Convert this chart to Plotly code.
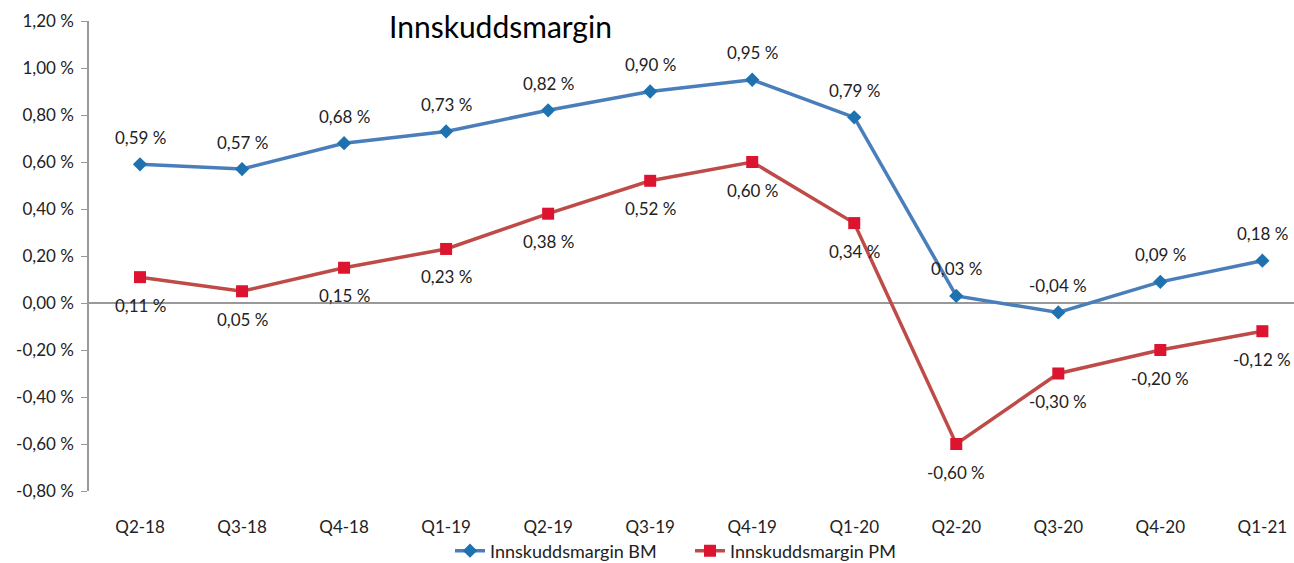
import plotly.graph_objects as go

categories = ["Q2-18", "Q3-18", "Q4-18", "Q1-19", "Q2-19", "Q3-19", "Q4-19",
              "Q1-20", "Q2-20", "Q3-20", "Q4-20", "Q1-21"]
bm_values = [0.59, 0.57, 0.68, 0.73, 0.82, 0.90, 0.95, 0.79, 0.03, -0.04, 0.09, 0.18]
pm_values = [0.11, 0.05, 0.15, 0.23, 0.38, 0.52, 0.60, 0.34, -0.60, -0.30, -0.20, -0.12]
y_ticks = [-0.8, -0.6, -0.4, -0.2, 0.0, 0.2, 0.4, 0.6, 0.8, 1.0, 1.2]


def fmt(v):
    return f"{v:.2f}".replace(".", ",") + " %"


FONT = "Lato, Noto Sans, sans-serif"
W, H = 1294, 563
L, T, B, R = 89, 21, 72, 0
PW, PH = W - L - R, H - T - B

fig = go.Figure()
fig.add_trace(go.Scatter(
    x=categories, y=bm_values, mode="lines+markers", name="Innskuddsmargin BM",
    line=dict(color="#4A7EBB", width=3.5),
    marker=dict(symbol="diamond", size=11, color="#1F72B0"),
))
fig.add_trace(go.Scatter(
    x=categories, y=pm_values, mode="lines+markers", name="Innskuddsmargin PM",
    line=dict(color="#BE4B48", width=3.5),
    marker=dict(symbol="square", size=12, color="#DC1430"),
))

annotations = []
for c, v in zip(categories, bm_values):
    annotations.append(dict(x=c, y=v, xref="x", yref="y", text=fmt(v), showarrow=False,
                            yshift=27, font=dict(family=FONT, size=17, color="#222")))
for c, v in zip(categories, pm_values):
    annotations.append(dict(x=c, y=v, xref="x", yref="y", text=fmt(v), showarrow=False,
                            yshift=-28, font=dict(family=FONT, size=17, color="#222")))
annotations.append(dict(
    x=(500 - L) / PW, y=1 - (26 - T) / PH, xref="paper", yref="paper",
    text="Innskuddsmargin", showarrow=False, xanchor="center", yanchor="middle",
    font=dict(family=FONT, size=30, color="#000")))

fig.update_layout(
    width=W, height=H,
    margin=dict(l=L, r=R, t=T, b=B, autoexpand=False),
    paper_bgcolor="white", plot_bgcolor="white",
    font=dict(family=FONT, size=17, color="#222"),
    showlegend=True,
    legend=dict(orientation="h", x=(690 - L) / PW, xanchor="center",
                y=-(551 - 491) / PH, yanchor="middle",
                bgcolor="rgba(0,0,0,0)",
                font=dict(family=FONT, size=18, color="#222"),
                entrywidth=195, tracegroupgap=0),
    annotations=annotations,
    xaxis=dict(type="category", range=[-0.5, 11.31], showgrid=False, zeroline=False,
               showline=False, ticks="", ticklabelstandoff=24,
               tickfont=dict(family=FONT, size=17, color="#222")),
    yaxis=dict(range=[-0.8, 1.2], tickvals=y_ticks, ticktext=[fmt(v) for v in y_ticks],
               showgrid=False, zeroline=True, zerolinecolor="#999", zerolinewidth=1.5,
               showline=True, linecolor="#999", linewidth=1.5,
               ticks="outside", ticklen=6, tickcolor="#999", ticklabelstandoff=4,
               tickfont=dict(family=FONT, size=17, color="#222")),
)

fig.write_html(
    "out.html",
    config={"displayModeBar": False},
    post_script="document.body.style.margin='0';document.body.style.overflow='hidden';",
)
